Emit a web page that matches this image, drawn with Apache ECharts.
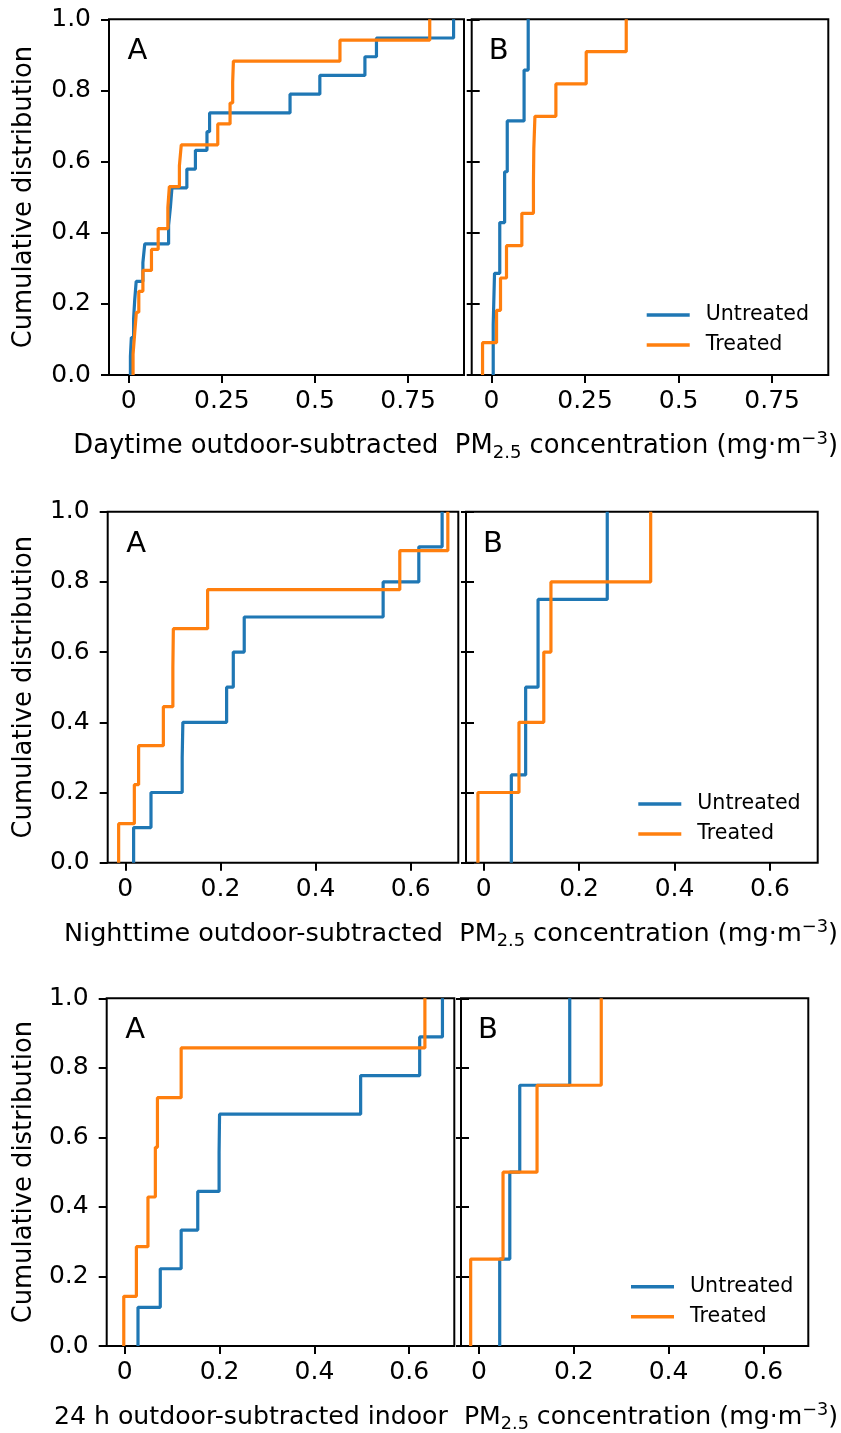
<!DOCTYPE html>
<html>
<head>
<meta charset="utf-8">
<script src="https://cdn.jsdelivr.net/npm/echarts@6/dist/echarts.min.js"></script>
<style>
  html, body { margin: 0; padding: 0; background: #fff; }
  #chart { width: 841px; height: 1433px; }
</style>
</head>
<body>
<div id="chart"></div>
<script>
// Sorted outdoor-subtracted PM2.5 samples (mg·m−3); A = first site, B = second site
const dayUntreatedA   = [0.0045, 0.007, 0.013, 0.016, 0.020, 0.038, 0.043, 0.107, 0.112, 0.116, 0.156, 0.179, 0.210, 0.217, 0.433, 0.513, 0.634, 0.665, 0.872];
const dayTreatedA     = [0.0116, 0.016, 0.0205, 0.027, 0.038, 0.061, 0.079, 0.105, 0.109, 0.136, 0.141, 0.239, 0.272, 0.279, 0.281, 0.567, 0.808];
const dayUntreatedB   = [0.0045, 0.008, 0.022, 0.035, 0.042, 0.087, 0.098];
const dayTreatedB     = [-0.024, 0.0134, 0.024, 0.040, 0.081, 0.112, 0.113, 0.116, 0.172, 0.253, 0.360];

const nightUntreatedA = [0.0175, 0.054, 0.1196, 0.121, 0.213, 0.227, 0.250, 0.542, 0.617, 0.666];
const nightTreatedA   = [-0.014, 0.019, 0.028, 0.080, 0.100, 0.101, 0.173, 0.577, 0.678];
const nightUntreatedB = [0.058, 0.088, 0.114, 0.259];
const nightTreatedB   = [-0.012, 0.074, 0.126, 0.141, 0.350];

const fullUntreatedA  = [0.028, 0.075, 0.119, 0.154, 0.199, 0.200, 0.4975, 0.622, 0.670];
const fullTreatedA    = [-0.002, 0.0246, 0.049, 0.0646, 0.069, 0.119, 0.633];
const fullUntreatedB  = [0.0437, 0.065, 0.086, 0.1915];
const fullTreatedB    = [-0.0176, 0.0507, 0.1225, 0.258];

// Tick positions
const dayTicks = [0, 0.25, 0.5, 0.75];
const nightTicks = [0, 0.2, 0.4, 0.6];
const fullTicks = [0, 0.2, 0.4, 0.6];
const yTicks = [0, 0.2, 0.4, 0.6, 0.8, 1.0];

const seriesNames = ['Untreated', 'Treated'];
const panelLetters = ['A', 'B'];
const yTitle = 'Cumulative distribution';
const xTitlePrefixes = ['Daytime outdoor-subtracted  PM', 'Nighttime outdoor-subtracted  PM', '24 h outdoor-subtracted indoor  PM'];

const FONT = 'DejaVu Sans';
const COLORS = ['#1f77b4', '#ff7f0e'];

// Layout of each row: panel boxes [left, top, width, height], x extent, legend anchor
const rows = [
  { a: [109, 19.3, 355, 355.7], b: [471.7, 19.3, 356.6, 355.7], xr: [-0.053, 0.9], ticks: dayTicks,
    data: [[dayUntreatedA, dayTreatedA], [dayUntreatedB, dayTreatedB]], legend: [646.7, 315], titleY: 446.3, titleSize: 25.8 },
  { a: [107.7, 511.7, 350.6, 351], b: [466, 511.7, 351.7, 351], xr: [-0.037, 0.70], ticks: nightTicks,
    data: [[nightUntreatedA, nightTreatedA], [nightUntreatedB, nightTreatedB]], legend: [638.3, 804], titleY: 934, titleSize: 25.5 },
  { a: [106.7, 998.3, 347.6, 347.7], b: [461, 998.3, 347.3, 347.7], xr: [-0.038, 0.695], ticks: fullTicks,
    data: [[fullUntreatedA, fullTreatedA], [fullUntreatedB, fullTreatedB]], legend: [631, 1286.7], titleY: 1417.3, titleSize: 25.2 }
];

// Empirical CDF as step points: rise at each sorted sample
function ecdf(values) {
  const n = values.length;
  const pts = [[values[0], 0]];
  values.forEach((v, i) => pts.push([v, (i + 1) / n]));
  return pts;
}

const grid = [], xAxis = [], yAxis = [], series = [], legend = [], graphic = [];
const tickStyle = { color: '#000', width: 2 };
const labelStyle = { color: '#000', fontFamily: FONT, fontSize: 25 };
const hiddenLine = { show: false, onZero: false };

rows.forEach((row, r) => {
  [row.a, row.b].forEach((box, p) => {
    const gi = grid.length;
    grid.push({ left: box[0], top: box[1], width: box[2], height: box[3], show: true,
      borderColor: '#000', borderWidth: 2, backgroundColor: 'transparent' });
    xAxis.push({
      type: 'value', gridIndex: gi, position: 'bottom', min: row.xr[0], max: row.xr[1],
      axisLine: hiddenLine, splitLine: { show: false },
      axisTick: { show: true, length: 8, lineStyle: tickStyle, customValues: row.ticks },
      axisLabel: Object.assign({ margin: 14, customValues: row.ticks, formatter: v => String(v) }, labelStyle)
    });
    const yi = yAxis.length;
    if (p === 0) {
      yAxis.push({
        type: 'value', gridIndex: gi, position: 'left', min: 0, max: 1, interval: 0.2,
        axisLine: hiddenLine, splitLine: { show: false },
        axisTick: { show: true, length: 8, lineStyle: tickStyle },
        axisLabel: Object.assign({ margin: 18, formatter: v => v.toFixed(1),
          customValues: yTicks }, labelStyle)
      });
    } else {
      // ticks straddling the shared left spine
      yAxis.push({
        type: 'value', gridIndex: gi, position: 'left', min: 0, max: 1, interval: 0.2,
        axisLine: hiddenLine, splitLine: { show: false }, axisLabel: { show: false },
        axisTick: { show: true, inside: true, length: 8, lineStyle: tickStyle }
      });
      yAxis.push({
        type: 'value', gridIndex: gi, position: 'left', offset: 0, min: 0, max: 1, interval: 0.2,
        axisLine: hiddenLine, splitLine: { show: false }, axisLabel: { show: false },
        axisTick: { show: true, length: 5, lineStyle: tickStyle }
      });
    }
    row.data[p].forEach((vals, s) => {
      series.push({
        name: seriesNames[s], type: 'line', xAxisIndex: gi, yAxisIndex: yi,
        data: ecdf(vals), step: 'end', showSymbol: false, symbol: 'none', clip: false,
        color: COLORS[s], lineStyle: { color: COLORS[s], width: 3.2 }, z: 3 + s,
        animation: false, silent: true
      });
    });
    // panel letter
    graphic.push({
      type: 'text', x: box[0] + (p === 0 ? 18.5 : 17), y: box[1] + 18,
      style: { text: panelLetters[p], fill: '#000', font: '29px "' + FONT + '"',
        textAlign: 'left', align: 'left', textVerticalAlign: 'top', verticalAlign: 'top' }
    });
  });

  // y-axis title
  graphic.push({
    type: 'text', x: 24, y: row.a[1] + row.a[3] / 2, rotation: Math.PI / 2,
    style: { text: yTitle, fill: '#000', font: '25.8px "' + FONT + '"',
      textAlign: 'center', align: 'center', textVerticalAlign: 'middle', verticalAlign: 'middle' }
  });

  // x-axis title spanning both panels
  const ts = row.titleSize, ss = ts * 0.7;
  graphic.push({
    type: 'text', x: 838, y: row.titleY,
    style: {
      text: '{a|' + xTitlePrefixes[r] + '}{s|2.5}{a| concentration (mg·m}{p|−3}{a|)}',
      fill: '#000', textAlign: 'right', align: 'right', textVerticalAlign: 'middle', verticalAlign: 'middle',
      rich: {
        a: { fontFamily: FONT, fontSize: ts, lineHeight: 32, fill: '#000', color: '#000' },
        s: { fontFamily: FONT, fontSize: ss, lineHeight: 18, verticalAlign: 'bottom', fill: '#000', color: '#000' },
        p: { fontFamily: FONT, fontSize: ss, lineHeight: 14, verticalAlign: 'top', fill: '#000', color: '#000' }
      }
    }
  });

  legend.push({
    data: seriesNames, orient: 'vertical', left: row.legend[0], top: row.legend[1] - 10.5,
    padding: 0, itemGap: 9, itemWidth: 43, itemHeight: 3.5, icon: 'rect', selectedMode: false,
    textStyle: { color: '#000', fontFamily: FONT, fontSize: 20.6, lineHeight: 21, padding: [0, 0, 0, 11] }
  });
});

const chart = echarts.init(document.getElementById('chart'), null, { renderer: 'canvas', width: 841, height: 1433 });
chart.setOption({
  animation: false,
  backgroundColor: '#fff',
  grid, xAxis, yAxis, series, legend, graphic
});
</script>
</body>
</html>
